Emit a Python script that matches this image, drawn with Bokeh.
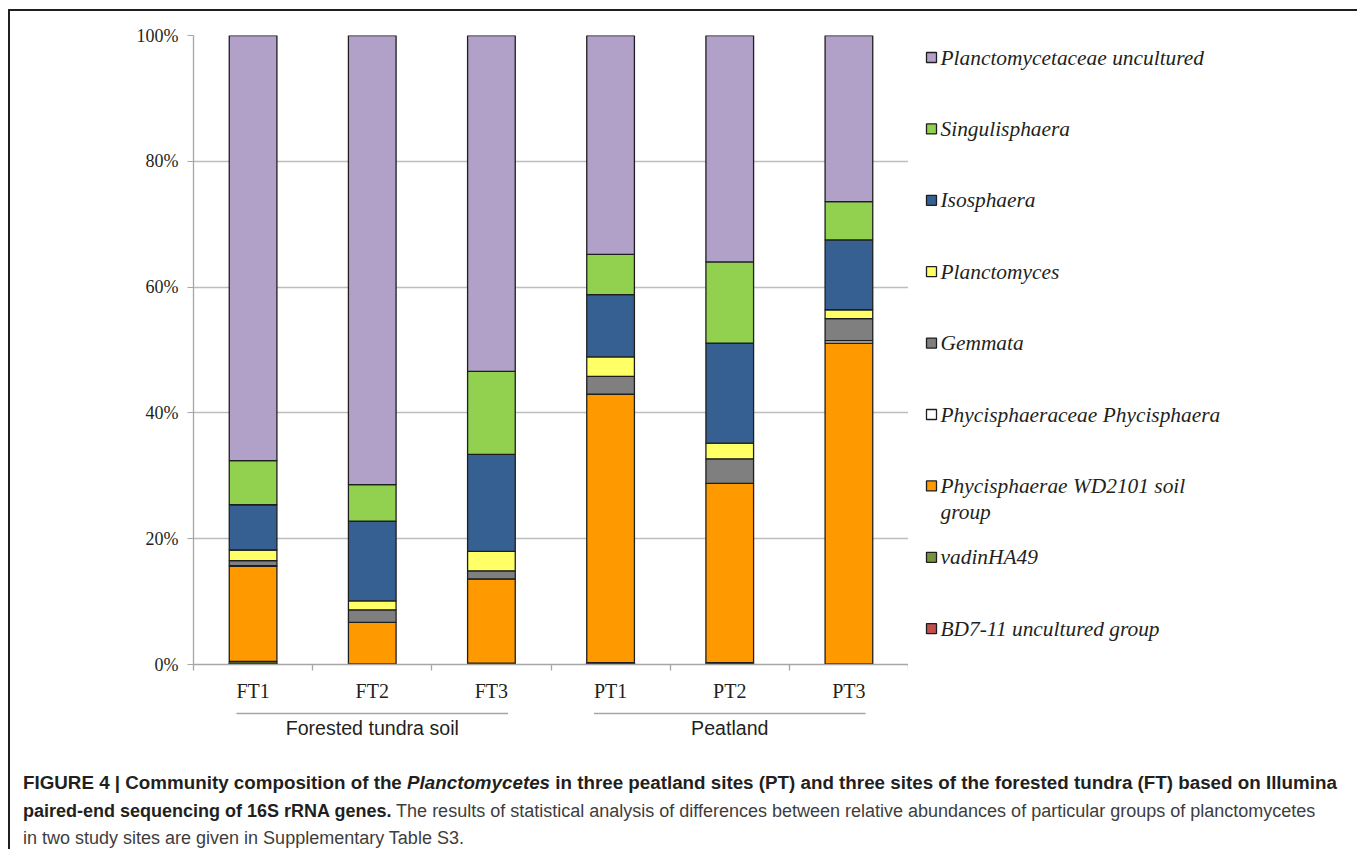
from bokeh.plotting import figure
from bokeh.layouts import column, row
from bokeh.models import (ColumnDataSource, Range1d, FixedTicker, PrintfTickFormatter, LinearAxis, Div)
from bokeh.core.properties import value
from bokeh.embed import file_html
from bokeh.resources import INLINE

# ---------------- data (percent of reads) ----------------
groups = ["Forested tundra soil", "Forested tundra soil", "Forested tundra soil",
          "Peatland", "Peatland", "Peatland"]
sites = ["FT1", "FT2", "FT3", "PT1", "PT2", "PT3"]

taxa = ["BD7-11 uncultured group", "vadinHA49", "Phycisphaerae WD2101 soil group",
        "Phycisphaeraceae Phycisphaera", "Gemmata", "Planctomyces", "Isosphaera",
        "Singulisphaera", "Planctomycetaceae uncultured"]

bd7_11 = [0.2, 0.0, 0.1, 0.2, 0.1, 0.0]
vadinHA49 = [0.3, 0.1, 0.1, 0.1, 0.2, 0.1]
wd2101 = [15.1, 6.6, 13.4, 42.7, 28.5, 51.0]
phycisphaera = [0.1, 0.0, 0.0, 0.0, 0.0, 0.4]
gemmata = [0.8, 2.0, 1.3, 2.8, 3.9, 3.5]
planctomyces = [1.7, 1.4, 3.1, 3.1, 2.5, 1.4]
isosphaera = [7.2, 12.7, 15.4, 9.9, 15.9, 11.1]
singulisphaera = [7.0, 5.8, 13.2, 6.4, 12.9, 6.1]
plancto_uncult = [67.6, 71.4, 53.4, 34.8, 36.0, 26.4]

colors = ["#C0504D", "#77933C", "#FF9900", "#FFFFFF", "#7F7F7F", "#FFFF66",
          "#376092", "#92D050", "#B1A0C7"]

y_ticks = [0, 20, 40, 60, 80, 100]

caption_l1a = "FIGURE 4 | Community composition of the"
caption_l1b = "Planctomycetes"
caption_l1c = "in three peatland sites (PT) and three sites of the forested tundra (FT) based on Illumina"
caption_l2a = "paired-end sequencing of 16S rRNA genes."
caption_l2b = "The results of statistical analysis of differences between relative abundances of particular groups of planctomycetes"
caption_l3 = "in two study sites are given in Supplementary Table S3."

# ---------------- layout constants (page pixels) ----------------
X0, Y0 = 10, 11                # inner origin (after 8/9 px margin and 2 px frame line)
IW = 1343                      # inner width
FL, FR, FT, FB = 193, 908, 35, 664
TOP_BOTTOM = 705               # bottom of the chart figure
GRP_BOTTOM = 740               # bottom of the group-label strip
CAP_BOTTOM = 848
SERIF = "Liberation Serif"
SANS = "Liberation Sans"
INK = "#231F20"
GREY_TXT = "#3D3D3D"
AXC = "#A6A6A6"

n = len(sites)
centers = [i + 0.5 for i in range(n)]
edges = [float(i) for i in range(n + 1)]

series = [bd7_11, vadinHA49, wd2101, phycisphaera, gemmata, planctomyces,
          isosphaera, singulisphaera, plancto_uncult]
keys = ["s%d" % i for i in range(len(taxa))]
data = {"x": centers}
for k, s in zip(keys, series):
    data[k] = s
src = ColumnDataSource(data)

xr = Range1d(0, n)

# ---------------- main chart ----------------
p = figure(width=FR - X0, height=TOP_BOTTOM - Y0, output_backend="svg", toolbar_location=None,
           x_range=xr, y_range=Range1d(0, 100), x_axis_location=None, y_axis_location=None,
           min_border_left=FL - X0, min_border_right=0,
           min_border_top=FT - Y0, min_border_bottom=TOP_BOTTOM - FB)
p.outline_line_color = None
p.xgrid.grid_line_color = None
p.ygrid.grid_line_color = "#BDBDBD"
p.ygrid.grid_line_width = 1.3
p.ygrid.ticker = FixedTicker(ticks=y_ticks)

rs = p.vbar_stack(keys, x="x", width=0.4, source=src, fill_color=colors,
                  line_color="#1E1E1E", line_width=1.3)

yax = LinearAxis(ticker=FixedTicker(ticks=y_ticks), formatter=PrintfTickFormatter(format="%d%%"))
yax.axis_line_color = AXC
yax.axis_line_width = 1.3
yax.major_tick_line_color = AXC
yax.major_tick_out = 6
yax.major_tick_in = 0
yax.minor_tick_line_color = None
yax.major_label_standoff = 9
yax.major_label_text_font = SERIF
yax.major_label_text_font_size = "18px"
yax.major_label_text_color = INK
p.add_layout(yax, "left")

xax = LinearAxis(ticker=FixedTicker(ticks=centers, minor_ticks=edges),
                 major_label_overrides={c: s for c, s in zip(centers, sites)})
xax.axis_line_color = AXC
xax.axis_line_width = 1.3
xax.major_tick_line_color = None
xax.major_tick_out = 6
xax.minor_tick_line_color = AXC
xax.minor_tick_line_width = 1.3
xax.minor_tick_out = 6
xax.minor_tick_in = 0
xax.major_label_standoff = 9
xax.major_label_text_font = SERIF
xax.major_label_text_font_size = "20px"
xax.major_label_text_color = INK
p.add_layout(xax, "below")

# ---------------- legend panel (its frame is aligned with the chart frame vertically) ----------------
LX0, LX1 = FR, X0 + IW
lg = figure(width=LX1 - LX0, height=TOP_BOTTOM - Y0, output_backend="svg", toolbar_location=None,
            x_range=Range1d(LX0, LX1), y_range=Range1d(FB, FT),
            x_axis_location=None, y_axis_location=None,
            min_border_left=0, min_border_right=0, min_border_top=FT - Y0,
            min_border_bottom=TOP_BOTTOM - FB)
lg.outline_line_color = None
lg.grid.visible = False

leg_names = taxa[::-1]
leg_cols = colors[::-1]
leg_first, leg_step = 57, 71.4
leg_y = [leg_first + i * leg_step for i in range(len(leg_names))]
lg.rect(x=[931] * len(leg_names), y=leg_y, width=10, height=10, fill_color=leg_cols,
        line_color="#1E1E1E", line_width=1.3)
lines_txt, lines_y = [], []
for name, yy in zip(leg_names, leg_y):
    if name == "Phycisphaerae WD2101 soil group":
        lines_txt += ["Phycisphaerae WD2101 soil", "group"]
        lines_y += [yy, yy + 26]
    else:
        lines_txt.append(name)
        lines_y.append(yy)
lg.text(x=[940] * len(lines_txt), y=lines_y, text=lines_txt, text_font=value(SERIF),
        text_font_style="italic", text_font_size="21.4px", text_color=INK,
        text_baseline="middle", text_align="left")

# ---------------- group labels strip ----------------
g = figure(width=FR - X0, height=GRP_BOTTOM - TOP_BOTTOM, output_backend="svg", toolbar_location=None,
           x_range=xr, y_range=Range1d(GRP_BOTTOM, TOP_BOTTOM),
           x_axis_location=None, y_axis_location=None,
           min_border_left=FL - X0, min_border_right=0, min_border_top=0, min_border_bottom=0)
g.outline_line_color = None
g.grid.visible = False
grp_names, grp_x0, grp_x1, grp_c = [], [], [], []
for gname in dict.fromkeys(groups):
    cs = [c for c, gg in zip(centers, groups) if gg == gname]
    grp_names.append(gname)
    grp_x0.append(min(cs) - 0.14)
    grp_x1.append(max(cs) + 0.14)
    grp_c.append(sum(cs) / len(cs))
g.segment(x0=grp_x0, x1=grp_x1, y0=[713] * len(grp_names), y1=[713] * len(grp_names),
          line_color=AXC, line_width=1.3)
g.text(x=grp_c, y=[727] * len(grp_names), text=grp_names, text_font=value(SANS),
       text_font_size="19.6px", text_color=INK, text_baseline="middle", text_align="center")

# ---------------- caption ----------------
cap_html = (
    "<div style=\"font-family:'Liberation Sans',Arial,sans-serif;font-size:18px;line-height:27.5px;"
    "color:%s;padding:24px 0 0 8px;white-space:nowrap;\">"
    "<b style=\"font-size:18.8px\">%s <i>%s</i> %s</b><br>"
    "<b>%s</b> <span style=\"color:%s\">%s</span><br>"
    "<span style=\"color:%s\">%s</span></div>"
) % (INK, caption_l1a, caption_l1b, caption_l1c, caption_l2a, GREY_TXT, caption_l2b,
     GREY_TXT, caption_l3)
cap = Div(text=cap_html, width=IW, height=CAP_BOTTOM - GRP_BOTTOM)

layout = column(row(p, lg), g, cap,
                styles={"margin-left": "8px", "margin-top": "9px",
                        "border-top": "2px solid #231F20", "border-left": "2px solid #231F20",
                        "border-right": "2px solid #8A8A8A"})

open("out.html", "w").write(file_html(layout, INLINE))
